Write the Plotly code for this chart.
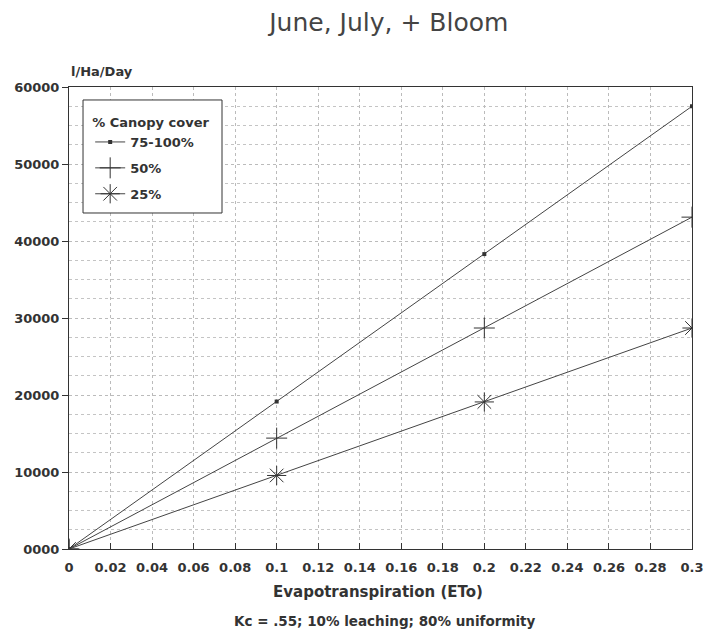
import plotly.graph_objects as go

eto = [0, 0.1, 0.2, 0.3]
cover_100 = [0, 19150, 38300, 57500]
cover_50 = [0, 14400, 28700, 43100]
cover_25 = [0, 9550, 19100, 28700]
series_names = ["75-100%", "50%", "25%"]

x_ticks = [0, 0.02, 0.04, 0.06, 0.08, 0.1, 0.12, 0.14, 0.16, 0.18, 0.2, 0.22, 0.24, 0.26, 0.28, 0.3]
x_labels = ["0", "0.02", "0.04", "0.06", "0.08", "0.1", "0.12", "0.14", "0.16", "0.18", "0.2", "0.22", "0.24", "0.26", "0.28", "0.3"]
y_ticks = [0, 10000, 20000, 30000, 40000, 50000, 60000]
y_labels = ["0000", "10000", "20000", "30000", "40000", "50000", "60000"]

FONT = "DejaVu Sans"
ink = "#333333"

fig = go.Figure()
fig.add_trace(go.Scatter(x=eto, y=cover_100, name=series_names[0], mode="lines+markers",
                         legendgroup="a",
                         line=dict(color="#444", width=1),
                         marker=dict(symbol="square", size=4, color="#333")))
fig.add_trace(go.Scatter(x=eto, y=cover_50, name=series_names[1], mode="lines+markers",
                         legendgroup="b",
                         line=dict(color="#444", width=1),
                         marker=dict(symbol="cross-thin", size=15, line=dict(color="#333", width=1))))
fig.add_trace(go.Scatter(x=eto, y=cover_25, name=series_names[2], mode="lines+markers",
                         legendgroup="c",
                         line=dict(color="#444", width=1),
                         marker=dict(symbol="asterisk", size=16, line=dict(color="#333", width=1))))

fig.update_layout(
    width=724, height=640,
    margin=dict(l=61, r=40, t=79, b=99),
    paper_bgcolor="white", plot_bgcolor="white",
    font=dict(family=FONT, color=ink, size=12),
    title=dict(text="June, July, + Bloom", x=0.526, xanchor="center", y=0.978, yanchor="middle",
               font=dict(family=FONT, size=25, color="#444")),
    legend=dict(x=0.034, y=0.950, xanchor="left", yanchor="top", xref="paper", yref="paper",
                borderwidth=0, bgcolor="rgba(0,0,0,0)",
                title=dict(text="<b>% Canopy cover</b>", font=dict(size=13)),
                font=dict(size=13, weight="bold"), tracegroupgap=6, itemwidth=30),
    showlegend=True,
    yaxis2=dict(overlaying="y", side="right", matches="y", range=[0, 60000],
                tickmode="linear", tick0=0, dtick=2500, ticks="inside", ticklen=5,
                tickcolor="#444", showticklabels=False, showgrid=False, zeroline=False,
                showline=False),
)
# legend frame
fig.add_shape(type="rect", xref="paper", yref="paper", x0=0.0225, x1=0.2456, y0=0.7273, y1=0.9719,
              line=dict(color="#333", width=1), fillcolor="white", layer="above")

fig.update_xaxes(range=[0, 0.3], tickvals=x_ticks, ticktext=x_labels,
                 showline=True, linecolor="#333", linewidth=1, mirror=True,
                 ticks="inside", ticklen=6, tickcolor="#333", ticklabelstandoff=6,
                 showgrid=True, gridcolor="#bbb", griddash="dot", gridwidth=1,
                 zeroline=False, automargin=False,
                 tickfont=dict(size=13, family=FONT, weight="bold"))
fig.update_yaxes(selector=dict(overlaying=None), range=[0, 60000], tickvals=y_ticks, ticktext=y_labels,
                 showline=True, linecolor="#333", linewidth=1, mirror=True,
                 ticks="outside", ticklen=6, tickcolor="#333",
                 showgrid=True, gridcolor="#bbb", griddash="dot", gridwidth=1,
                 minor=dict(dtick=2500, showgrid=True, gridcolor="#c4c4c4", griddash="dot", gridwidth=1),
                 zeroline=False, automargin=False,
                 tickfont=dict(size=13, family=FONT, weight="bold"))

fig.add_annotation(text="<b>l/Ha/Day</b>", xref="paper", yref="paper", x=0.0, y=1.0,
                   xanchor="left", yanchor="bottom", yshift=6, showarrow=False,
                   font=dict(size=13, family=FONT, color=ink))
fig.add_annotation(text="<b>Evapotranspiration (ETo)</b>", xref="paper", yref="paper",
                   x=0.496, y=0, xanchor="center", yanchor="middle", yshift=-43, showarrow=False,
                   font=dict(size=15, family=FONT, color=ink))
fig.add_annotation(text="<b>Kc = .55; 10% leaching; 80% uniformity</b>", xref="paper", yref="paper",
                   x=0.507, y=0, xanchor="center", yanchor="middle", yshift=-72, showarrow=False,
                   font=dict(size=13.5, family=FONT, color=ink))

fig.write_html("out.html")
